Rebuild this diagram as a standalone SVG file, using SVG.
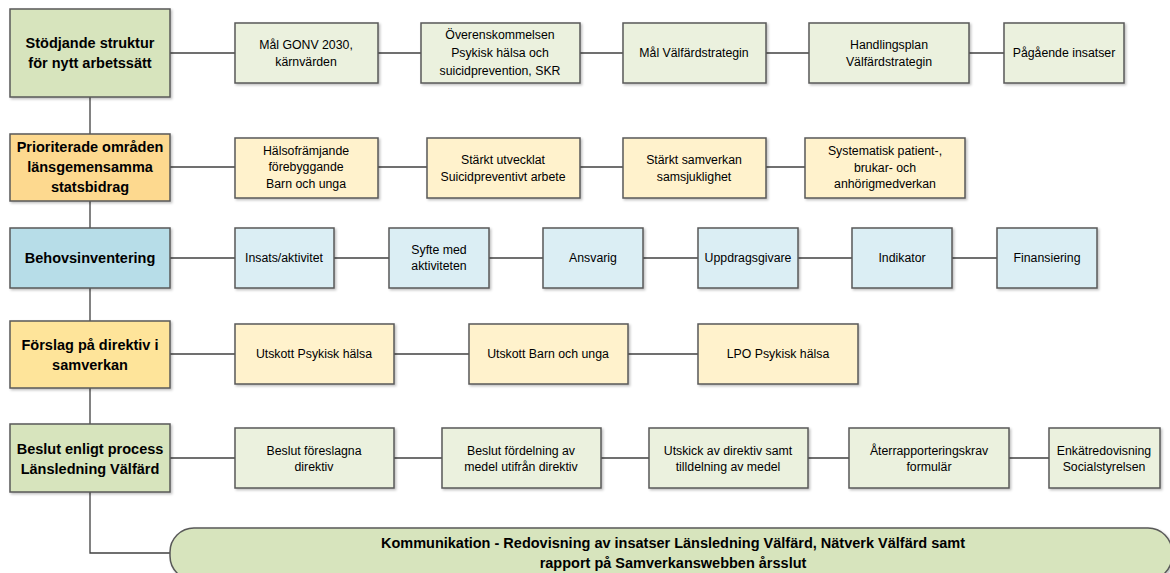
<svg xmlns="http://www.w3.org/2000/svg" width="1170" height="573" viewBox="0 0 1170 573">
<defs>
<filter id="sh" x="-5%" y="-5%" width="115%" height="120%">
<feDropShadow dx="1.5" dy="1.5" stdDeviation="1" flood-color="#000" flood-opacity="0.25"/>
</filter>
</defs>
<style>
rect{stroke:#595959;stroke-width:1.5;filter:url(#sh)}
.g1{fill:#d7e4bd}.g2{fill:#ebf1de}
.o1{fill:#fdd98f}.o2{fill:#fff2cc}
.b1{fill:#b7dde8}.b2{fill:#dbeef4}
.y1{fill:#fee49a}
text{font-family:"Liberation Sans",Arial,sans-serif;fill:#000;text-anchor:middle;dominant-baseline:central}
.h{font-size:14.5px;font-weight:bold}
.c{font-size:12.3px}
.k{font-size:14.5px;font-weight:bold}
#connectors line,#connectors path{stroke:#404040;stroke-width:1.3;fill:none}
</style>
<g id="connectors">
<path d="M90 97 V553 H170"/>
<line x1="170" y1="53" x2="235" y2="53"/>
<line x1="378" y1="53" x2="421" y2="53"/>
<line x1="580" y1="53" x2="623" y2="53"/>
<line x1="766" y1="53" x2="809" y2="53"/>
<line x1="969" y1="53" x2="1004" y2="53"/>
<line x1="170" y1="167" x2="235" y2="167"/>
<line x1="378" y1="167" x2="427" y2="167"/>
<line x1="580" y1="167" x2="623" y2="167"/>
<line x1="766" y1="167" x2="805" y2="167"/>
<line x1="170" y1="258" x2="235" y2="258"/>
<line x1="334" y1="258" x2="389" y2="258"/>
<line x1="489" y1="258" x2="543" y2="258"/>
<line x1="643" y1="258" x2="698" y2="258"/>
<line x1="798" y1="258" x2="852" y2="258"/>
<line x1="952" y1="258" x2="997" y2="258"/>
<line x1="170" y1="354" x2="235" y2="354"/>
<line x1="394" y1="354" x2="469" y2="354"/>
<line x1="628" y1="354" x2="698" y2="354"/>
<line x1="170" y1="458" x2="235" y2="458"/>
<line x1="394" y1="458" x2="442" y2="458"/>
<line x1="601" y1="458" x2="649" y2="458"/>
<line x1="808" y1="458" x2="849" y2="458"/>
<line x1="1009" y1="458" x2="1049" y2="458"/>
</g>

<g id="n-stodjande"><rect class="g1" x="10" y="9" width="160" height="88"/><text class="h" x="90" y="43">Stödjande struktur</text><text class="h" x="90" y="63">för nytt arbetssätt</text></g>
<g id="n-mal-gonv"><rect class="g2" x="235" y="23" width="143" height="60"/><text class="c" x="306" y="45">Mål GONV 2030,</text><text class="c" x="306" y="62">kärnvärden</text></g>
<g id="n-overens"><rect class="g2" x="421" y="23" width="159" height="60"/><text class="c" x="500" y="35">Överenskommelsen</text><text class="c" x="500" y="53">Psykisk hälsa och</text><text class="c" x="500" y="71">suicidprevention, SKR</text></g>
<g id="n-mal-valfard"><rect class="g2" x="623" y="23" width="143" height="60"/><text class="c" x="694" y="53">Mål Välfärdstrategin</text></g>
<g id="n-handlingsplan"><rect class="g2" x="809" y="23" width="160" height="60"/><text class="c" x="889" y="45">Handlingsplan</text><text class="c" x="889" y="62">Välfärdstrategin</text></g>
<g id="n-pagaende"><rect class="g2" x="1004" y="23" width="120" height="60"/><text class="c" x="1064" y="53">Pågående insatser</text></g>

<g id="n-prioriterade"><rect class="o1" x="10" y="134" width="160" height="67"/><text class="h" x="90" y="147">Prioriterade områden</text><text class="h" x="90" y="167">länsgemensamma</text><text class="h" x="90" y="187">statsbidrag</text></g>
<g id="n-halso"><rect class="o2" x="235" y="138" width="143" height="60"/><text class="c" x="306" y="151">Hälsofrämjande</text><text class="c" x="306" y="167">förebyggande</text><text class="c" x="306" y="184">Barn och unga</text></g>
<g id="n-suicid"><rect class="o2" x="427" y="138" width="153" height="60"/><text class="c" x="503" y="160">Stärkt utvecklat</text><text class="c" x="503" y="177">Suicidpreventivt arbete</text></g>
<g id="n-samverkan"><rect class="o2" x="623" y="138" width="143" height="60"/><text class="c" x="694" y="160">Stärkt samverkan</text><text class="c" x="694" y="177">samsjuklighet</text></g>
<g id="n-systematisk"><rect class="o2" x="805" y="138" width="160" height="60"/><text class="c" x="885" y="151">Systematisk patient-,</text><text class="c" x="885" y="168">brukar- och</text><text class="c" x="885" y="184">anhörigmedverkan</text></g>

<g id="n-behov"><rect class="b1" x="10" y="228" width="160" height="60"/><text class="h" x="90" y="258">Behovsinventering</text></g>
<g id="n-insats"><rect class="b2" x="235" y="228" width="99" height="60"/><text class="c" x="284" y="258">Insats/aktivitet</text></g>
<g id="n-syfte"><rect class="b2" x="389" y="228" width="100" height="60"/><text class="c" x="439" y="250">Syfte med</text><text class="c" x="439" y="266">aktiviteten</text></g>
<g id="n-ansvarig"><rect class="b2" x="543" y="228" width="100" height="60"/><text class="c" x="593" y="258">Ansvarig</text></g>
<g id="n-uppdrag"><rect class="b2" x="698" y="228" width="100" height="60"/><text class="c" x="748" y="258">Uppdragsgivare</text></g>
<g id="n-indikator"><rect class="b2" x="852" y="228" width="100" height="60"/><text class="c" x="902" y="258">Indikator</text></g>
<g id="n-finans"><rect class="b2" x="997" y="228" width="100" height="60"/><text class="c" x="1047" y="258">Finansiering</text></g>

<g id="n-forslag"><rect class="y1" x="10" y="321" width="160" height="67"/><text class="h" x="90" y="345">Förslag på direktiv i</text><text class="h" x="90" y="365">samverkan</text></g>
<g id="n-utskott-psyk"><rect class="o2" x="235" y="324" width="159" height="60"/><text class="c" x="314" y="354">Utskott Psykisk hälsa</text></g>
<g id="n-utskott-barn"><rect class="o2" x="469" y="324" width="159" height="60"/><text class="c" x="548" y="354">Utskott Barn och unga</text></g>
<g id="n-lpo"><rect class="o2" x="698" y="324" width="160" height="60"/><text class="c" x="778" y="354">LPO Psykisk hälsa</text></g>

<g id="n-beslut"><rect class="g1" x="10" y="424" width="160" height="68"/><text class="h" x="90" y="449">Beslut enligt process</text><text class="h" x="90" y="469">Länsledning Välfärd</text></g>
<g id="n-beslut-dir"><rect class="g2" x="235" y="428" width="159" height="60"/><text class="c" x="314" y="451">Beslut föreslagna</text><text class="c" x="314" y="467">direktiv</text></g>
<g id="n-beslut-ford"><rect class="g2" x="442" y="428" width="159" height="60"/><text class="c" x="521" y="451">Beslut fördelning av</text><text class="c" x="521" y="467">medel utifrån direktiv</text></g>
<g id="n-utskick"><rect class="g2" x="649" y="428" width="159" height="60"/><text class="c" x="728" y="451">Utskick av direktiv samt</text><text class="c" x="728" y="467">tilldelning av medel</text></g>
<g id="n-ater"><rect class="g2" x="849" y="428" width="160" height="60"/><text class="c" x="929" y="451">Återrapporteringskrav</text><text class="c" x="929" y="467">formulär</text></g>
<g id="n-enkat"><rect class="g2" x="1049" y="428" width="111" height="60"/><text class="c" x="1104" y="451">Enkätredovisning</text><text class="c" x="1104" y="467">Socialstyrelsen</text></g>

<g id="n-kommunikation"><rect class="g1" x="170" y="528" width="1002" height="52" rx="24" ry="24"/><text class="k" x="673" y="543">Kommunikation - Redovisning av insatser Länsledning Välfärd, Nätverk Välfärd samt</text><text class="k" x="673" y="563">rapport på Samverkanswebben årsslut</text></g>
</svg>
